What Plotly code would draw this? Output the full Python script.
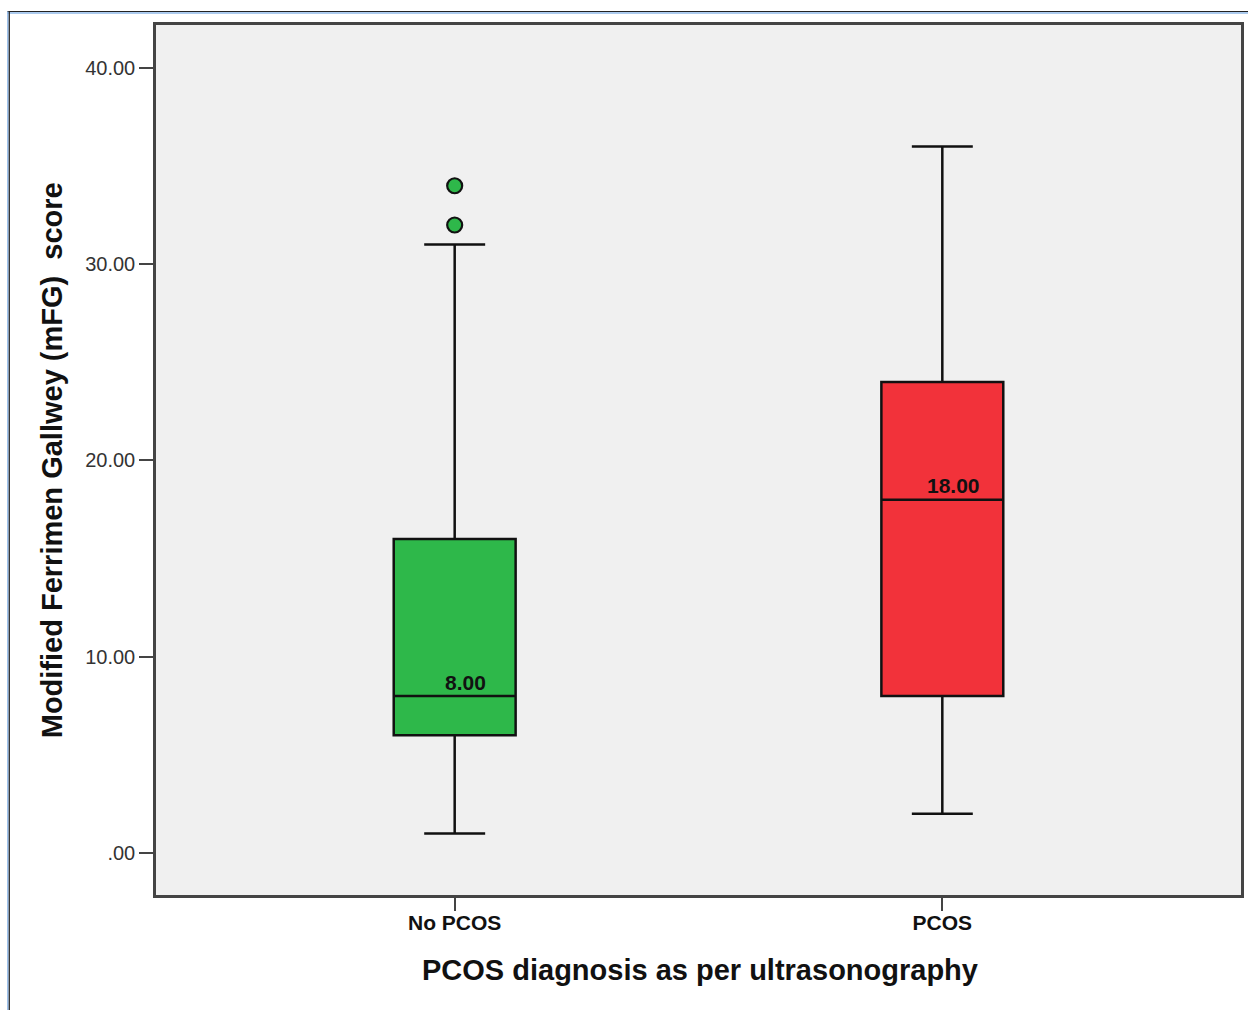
import plotly.graph_objects as go

# ---- data ----
categories = ["No PCOS", "PCOS"]
q1 = [6, 8]
medians = [8, 18]
q3 = [16, 24]
lower_whisker = [1, 2]
upper_whisker = [31, 36]
outlier_cat = ["No PCOS", "No PCOS"]
outlier_vals = [32, 34]
colors = ["#2EB84A", "#F2323A"]
median_labels = ["8.00", "18.00"]
y_tickvals = [0, 10, 20, 30, 40]
y_ticktext = [".00", "10.00", "20.00", "30.00", "40.00"]

fig = go.Figure()
for i, c in enumerate(categories):
    fig.add_trace(go.Box(
        x=[c], q1=[q1[i]], median=[medians[i]], q3=[q3[i]],
        lowerfence=[lower_whisker[i]], upperfence=[upper_whisker[i]],
        fillcolor=colors[i], line=dict(color="#111111", width=2.5),
        width=0.25, whiskerwidth=0.5, boxpoints=False, showlegend=False,
        hoverinfo="skip",
    ))

fig.add_trace(go.Scatter(
    x=outlier_cat, y=outlier_vals, mode="markers",
    marker=dict(size=15, color=colors[0], line=dict(color="#111111", width=2.2)),
    showlegend=False, hoverinfo="skip",
))

for i, c in enumerate(categories):
    fig.add_annotation(x=c, y=medians[i], text="<b>%s</b>" % median_labels[i],
                       showarrow=False, xshift=11, yshift=14,
                       font=dict(family="Liberation Sans Narrow, Liberation Sans, Arial", size=21, color="#111111"))

# axis titles
fig.add_annotation(xref="paper", yref="paper", x=-0.0956, y=0.5,
                   xanchor="center", yanchor="middle",
                   text="<b>Modified Ferrimen Gallwey (mFG)  score</b>", textangle=-90,
                   showarrow=False, font=dict(family="Liberation Sans, Arial", size=29, color="#111111"))
fig.add_annotation(xref="paper", yref="paper", x=0.501, y=-0.0862,
                   xanchor="center", yanchor="middle",
                   text="<b>PCOS diagnosis as per ultrasonography</b>",
                   showarrow=False, font=dict(family="Liberation Sans, Arial", size=29, color="#111111"))

# outer frame
fig.add_shape(type="line", xref="paper", yref="paper", x0=-0.137, x1=1.02, y0=1.0155, y1=1.0155,
              line=dict(color="#222222", width=1.2))
fig.add_shape(type="line", xref="paper", yref="paper", x0=-0.137, x1=1.02, y0=1.0138, y1=1.0138,
              line=dict(color="#8FB8E8", width=1.5))
fig.add_shape(type="line", xref="paper", yref="paper", x0=-0.1365, x1=-0.1365, y0=1.0155, y1=-0.2,
              line=dict(color="#8FB8E8", width=1.5))
fig.add_shape(type="line", xref="paper", yref="paper", x0=-0.1352, x1=-0.1352, y0=1.0155, y1=-0.2,
              line=dict(color="#222222", width=1.2))

fig.update_layout(
    width=1248, height=1010,
    margin=dict(l=156, r=4, t=25, b=115),
    paper_bgcolor="white", plot_bgcolor="#F0F0F0",
    xaxis=dict(type="category", categoryorder="array", categoryarray=categories,
               range=[-0.6125, 1.6125], showgrid=False, zeroline=False,
               showline=True, linecolor="#444444", linewidth=2.5, mirror=True,
               ticks="outside", ticklen=13, tickwidth=2, tickcolor="#444444",
               tickfont=dict(family="Liberation Sans Narrow, Liberation Sans, Arial", size=21, color="#111111"),
               ticklabelstandoff=-6),
    yaxis=dict(range=[-2.14, 42.19], showgrid=False, zeroline=False,
               tickvals=y_tickvals, ticktext=y_ticktext,
               showline=True, linecolor="#444444", linewidth=2.5, mirror=True,
               ticks="outside", ticklen=14, tickwidth=2, tickcolor="#444444",
               tickfont=dict(family="Liberation Sans, Arial", size=20, color="#333333"),
               ticklabelstandoff=0),
)
fig.update_xaxes(tickprefix="<b>", ticksuffix="</b>")

fig.write_html("out.html", config={"displayModeBar": False},
               post_script="document.body.style.margin='0';document.body.style.overflow='hidden';")
